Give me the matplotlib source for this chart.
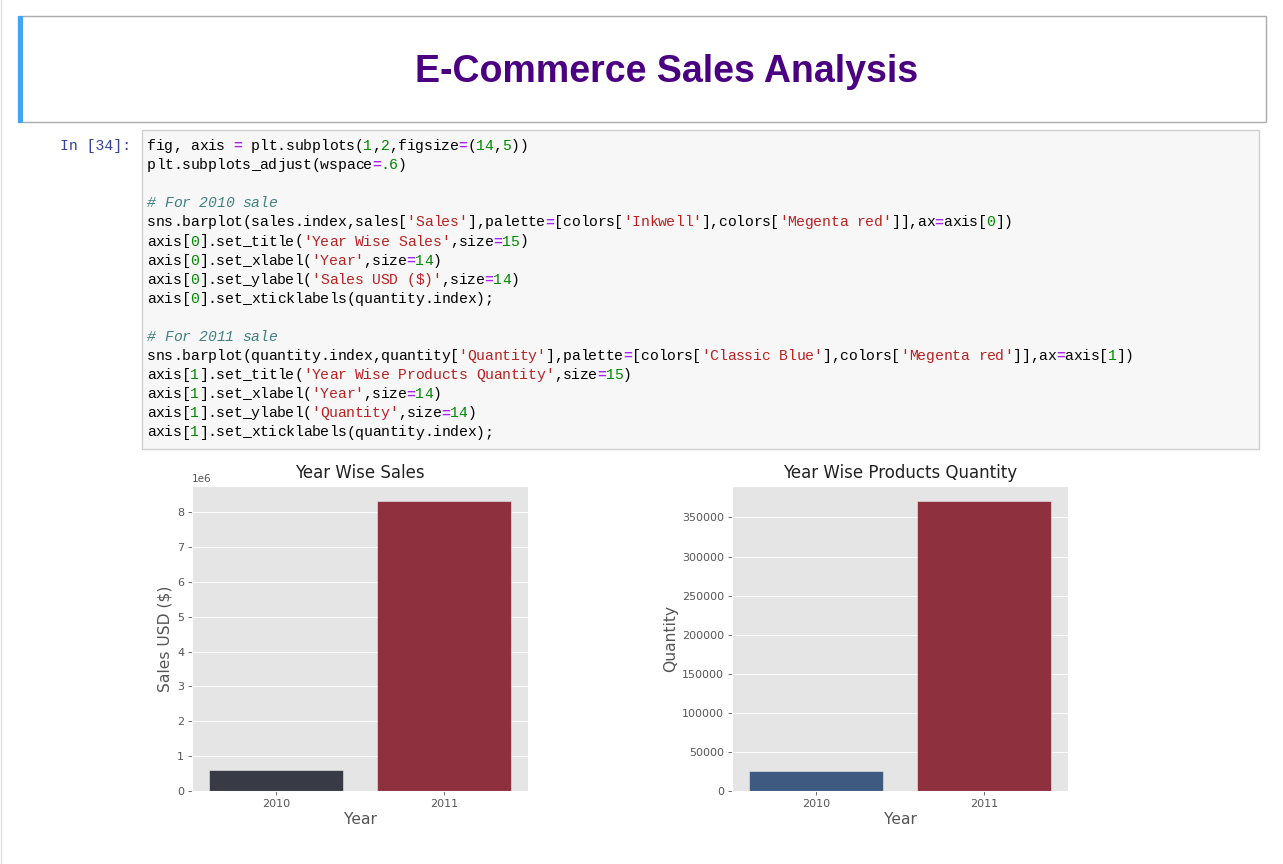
import re
import numpy as np
import matplotlib
matplotlib.use('Agg')
import matplotlib.pyplot as plt
from matplotlib.patches import Rectangle

# data
years = ['2010', '2011']
sales = [0.59e6, 8.33e6]
quantity = [26000, 371700]
sales_colors = ['#383a45', '#8e303d']
qty_colors = ['#3e5a80', '#8e303d']

code_lines = [
    "fig, axis = plt.subplots(1,2,figsize=(14,5))",
    "plt.subplots_adjust(wspace=.6)",
    "",
    "# For 2010 sale",
    "sns.barplot(sales.index,sales['Sales'],palette=[colors['Inkwell'],colors['Megenta red']],ax=axis[0])",
    "axis[0].set_title('Year Wise Sales',size=15)",
    "axis[0].set_xlabel('Year',size=14)",
    "axis[0].set_ylabel('Sales USD ($)',size=14)",
    "axis[0].set_xticklabels(quantity.index);",
    "",
    "# For 2011 sale",
    "sns.barplot(quantity.index,quantity['Quantity'],palette=[colors['Classic Blue'],colors['Megenta red']],ax=axis[1])",
    "axis[1].set_title('Year Wise Products Quantity',size=15)",
    "axis[1].set_xlabel('Year',size=14)",
    "axis[1].set_ylabel('Quantity',size=14)",
    "axis[1].set_xticklabels(quantity.index);",
]

plt.style.use('ggplot')

W, H = 1283, 864
fig = plt.figure(figsize=(W / 100, H / 100), dpi=100)
fig.patch.set_facecolor('white')

# page layer in pixel coordinates
bg = fig.add_axes([0, 0, 1, 1])
bg.set_xlim(0, W)
bg.set_ylim(H, 0)
bg.axis('off')

bg.plot([0.5, 0.5], [0, H], color='#e0e0e0', lw=1)

# markdown header cell
bg.add_patch(Rectangle((18, 16), 1248, 106, facecolor='white', edgecolor='#ababab', lw=1))
bg.add_patch(Rectangle((18, 16), 4.5, 107, facecolor='#42a5f5', edgecolor='none'))
bg.text(667, 82, 'E-Commerce Sales Analysis', ha='center', va='baseline',
        fontsize=27, fontweight='bold', color='#4b0082', family='Liberation Sans')

# code cell
bg.add_patch(Rectangle((142, 130), 1117, 319, facecolor='#f7f7f7', edgecolor='#cfcfcf', lw=1))
mono = 'Liberation Mono'
fs = 10.6
cw = 8.655
bg.text(131, 146, 'In [34]:', ha='right', va='center', fontsize=fs, family=mono, color='#303f9f')

tok_re = re.compile(r"('[^']*')|(=)|([A-Za-z_]\w*)|(\d*\.?\d+)|(.)")
for i, line in enumerate(code_lines):
    y = 146 + i * 19.1
    is_comment = line.strip().startswith('#')
    for m in tok_re.finditer(line):
        s = m.group(0)
        color, weight, style = '#000000', 'normal', 'normal'
        if is_comment:
            color, style = '#408080', 'italic'
        elif m.group(1):
            color = '#ba2121'
        elif m.group(2):
            color, weight = '#aa22ff', 'bold'
        elif m.group(4):
            color = '#008800'
        # one glyph at a time keeps the monospace grid exact
        for k, ch in enumerate(s):
            if ch == ' ':
                continue
            bg.text(147 + (m.start() + k) * cw, y, ch, ha='left', va='center', fontsize=fs,
                    family=mono, color=color, fontweight=weight, style=style)


def bar_panel(left_px, values, colors, title, ylabel, ticks):
    ax = fig.add_axes([left_px / W, 1 - 791 / H, 336 / W, 305 / H])
    x = np.arange(len(years))
    ax.bar(x, values, width=0.8, color=colors, edgecolor='#eeeeee', linewidth=0.4)
    ax.set_xlim(-0.5, 1.5)
    ax.set_xticks(x)
    ax.set_xticklabels(years)
    ax.set_yticks(ticks)
    ax.xaxis.grid(False)
    ax.yaxis.grid(True, color='white', lw=0.7)
    ax.set_title(title, size=12, color='#222222', pad=6)
    ax.set_xlabel('Year', size=11.2, color='#555555', labelpad=2)
    ax.set_ylabel(ylabel, size=11.2, color='#555555', labelpad=3)
    ax.tick_params(labelsize=8, length=2.8, width=0.6, colors='#555555', pad=2.8)
    ax.yaxis.get_offset_text().set_fontsize(7.5)
    for sp in ax.spines.values():
        sp.set_linewidth(0.8)
    return ax


bar_panel(192, sales, sales_colors, 'Year Wise Sales', 'Sales USD ($)',
          np.arange(0, 9e6, 1e6))
bar_panel(732, quantity, qty_colors, 'Year Wise Products Quantity', 'Quantity',
          np.arange(0, 350001, 50000))

fig.savefig('out.png', dpi=100)
